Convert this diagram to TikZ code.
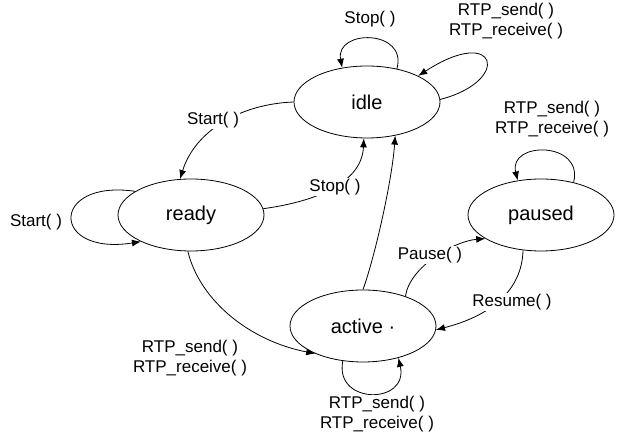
\documentclass[tikz,border=0pt]{standalone}
\usepackage{fontspec}
\setmainfont{Liberation Sans}
\usetikzlibrary{shapes.geometric,arrows.meta}
\begin{document}
\begin{tikzpicture}[x=1pt,y=1pt,
  state/.style={ellipse,draw,line width=0.8pt,minimum width=146pt,minimum height=72pt,inner sep=0pt,font=\fontsize{20}{24}\selectfont},
  lbl/.style={fill=white,inner sep=1.5pt,align=center,font=\fontsize{17}{20}\selectfont},
  arr/.style={line width=0.8pt,-{Latex[length=9pt,width=7pt]}}]
\useasboundingbox (0,0) rectangle (619,441);
% states
\node[state] (idle) at (367,339) {idle};
\node[state] (ready) at (191,226) {ready};
\node[state] (active) at (363,115) {active ·};
\node[state] (paused) at (541,226) {paused};
% transitions
\draw[arr] (idle.48) .. controls (408,412) and (335,412) .. (idle.126);
\draw[arr] (idle.2) .. controls (512,360) and (498,417) .. (idle.27);
\draw[arr] (idle.180) .. controls (240,337) and (195,310) .. (ready.107);
\draw[arr] (ready.157) .. controls (50,262) and (50,185) .. (ready.208);
\draw[arr] (ready.5) .. controls (320,240) and (362,260) .. (idle.265);
\draw[arr] (active.90) .. controls (375,185) and (392,260) .. (idle.-50);
\draw[arr] (ready.-95) .. controls (200,140) and (250,100) .. (active.210);
\draw[arr] (active.240) .. controls (334,36) and (409,36) .. (active.-42);
\draw[arr] (active.35) .. controls (410,175) and (455,200) .. (paused.203);
\draw[arr] (paused.243) .. controls (522,150) and (490,125) .. (active.-3);
\draw[arr] (paused.45) .. controls (584,300) and (508,300) .. (paused.124);
% labels
\node[lbl] (lStopIdle) at (370,422) {Stop( )};
\node[lbl] (lRtpIdle) at (506,420) {RTP\_send( )\\RTP\_receive( )};
\node[lbl] (lStartIdle) at (213,321) {Start( )};
\node[lbl] (lStartReady) at (36,219) {Start( )};
\node[lbl] (lStopReady) at (335,254) {Stop( )};
\node[lbl] (lRtpReady) at (190,83) {RTP\_send( )\\RTP\_receive( )};
\node[lbl] (lRtpActive) at (377,27) {RTP\_send( )\\RTP\_receive( )};
\node[lbl] (lPause) at (430,186) {Pause( )};
\node[lbl] (lResume) at (512,139) {Resume( )};
\node[lbl] (lRtpPaused) at (552,322) {RTP\_send( )\\RTP\_receive( )};
\end{tikzpicture}
\end{document}
